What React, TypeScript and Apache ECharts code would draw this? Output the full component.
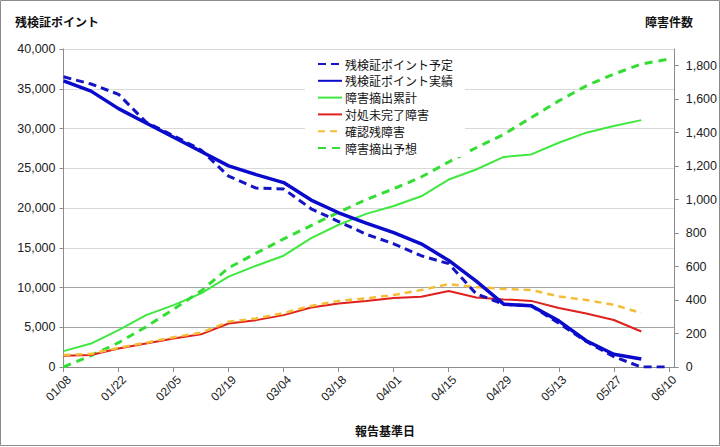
import React, { useEffect, useRef } from "react";
import * as echarts from "echarts";

// Weekly reporting dates (leap year, Mondays)
const weekDates = [
  "01/08", "01/15", "01/22", "01/29", "02/05", "02/12", "02/19", "02/26",
  "03/04", "03/11", "03/18", "03/25", "04/01", "04/08", "04/15", "04/22",
  "04/29", "05/06", "05/13", "05/20", "05/27", "06/03", "06/10",
];
const xTickLabels = [
  "01/08", "01/22", "02/05", "02/19", "03/04", "03/18",
  "04/01", "04/15", "04/29", "05/13", "05/27", "06/10",
];
const leftTicks = [0, 5000, 10000, 15000, 20000, 25000, 30000, 35000, 40000];
const rightTicks = [0, 200, 400, 600, 800, 1000, 1200, 1400, 1600, 1800];

// 残検証ポイント予定 (left axis)
const planPoints = [
  36500, 35600, 34300, 30800, 29100, 27300, 24000, 22500, 22400, 19900, 18300, 16700,
  15500, 14000, 13000, 9200, 7900, 7700, 5500, 3200, 1300, 0, 0,
];
// 残検証ポイント実績 (left axis)
const actualPoints = [
  36000, 34700, 32500, 30700, 28900, 27100, 25300, 24200, 23200, 21000, 19400, 18100,
  16900, 15500, 13400, 10800, 7900, 7700, 5800, 3300, 1600, 1000,
];
// 障害摘出累計 (right axis)
const defectsFound = [
  95, 140, 220, 310, 370, 440, 540, 605, 665, 770, 850, 915,
  962, 1020, 1120, 1180, 1255, 1270, 1340, 1400, 1440, 1475,
];
// 対処未完了障害 (right axis)
const openDefects = [
  67, 72, 110, 140, 170, 195, 260, 280, 310, 355, 380, 395,
  412, 420, 454, 415, 404, 395, 352, 320, 281, 212,
];
// 確認残障害 (right axis)
const unconfirmedDefects = [
  72, 78, 115, 145, 178, 205, 270, 290, 322, 365, 395, 410,
  430, 460, 495, 478, 466, 460, 422, 400, 372, 322,
];
// 障害摘出予想 (right axis)
const defectsForecast = [
  0, 68, 145, 240, 345, 455, 592, 680, 765, 845, 925, 1000,
  1065, 1135, 1225, 1310, 1390, 1490, 1590, 1680, 1750, 1810, 1840,
];

const seriesNames = [
  "残検証ポイント予定",
  "残検証ポイント実績",
  "障害摘出累計",
  "対処未完了障害",
  "確認残障害",
  "障害摘出予想",
];

const DAYS_PER_WEEK = 7;
const toPairs = (vals: number[]) => vals.map((v, i) => [i * DAYS_PER_WEEK, v]);

const JP = '"Noto Sans CJK JP", "Noto Sans", sans-serif';
const NUM = '"Liberation Sans", Arial, sans-serif';

export default function App() {
  const ref = useRef<HTMLDivElement>(null);

  useEffect(() => {
    document.body.style.margin = "0";
    if (!ref.current) return;
    const chart = echarts.init(ref.current, undefined, { renderer: "svg" });
    const tickDays = xTickLabels.map((_, i) => i * 14);

    const option: any = {
      animation: false,
      backgroundColor: "#ffffff",
      textStyle: { fontFamily: JP },
      grid: { left: 63.5, right: 43, top: 49, bottom: 80, containLabel: false },
      legend: {
        orient: "vertical",
        left: 305,
        top: 55,
        itemWidth: 24,
        itemHeight: 10,
        itemGap: 4.8,
        padding: [3, 12, 3, 12],
        backgroundColor: "#ffffff",
        data: seriesNames,
        itemStyle: { opacity: 0 },
        textStyle: { fontFamily: JP, fontSize: 12, color: "#111", padding: [0, 0, 0, -2] },
      },
      graphic: [
        {
          type: "rect",
          shape: { x: 0.5, y: 0.5, width: 719, height: 445 },
          style: { fill: "none", stroke: "#8c8c8c", lineWidth: 1 },
          silent: true,
        },
        {
          type: "text",
          left: 15,
          top: 15,
          style: { text: "残検証ポイント", font: `bold 12px ${JP}`, fill: "#111" },
        },
        {
          type: "text",
          left: 645,
          top: 15,
          style: { text: "障害件数", font: `bold 12px ${JP}`, fill: "#111" },
        },
        {
          type: "text",
          left: 355,
          top: 424,
          style: { text: "報告基準日", font: `bold 12px ${JP}`, fill: "#111" },
        },
      ],
      xAxis: {
        type: "value",
        min: 0,
        max: 155.5,
        interval: 14,
        axisLine: { show: true, lineStyle: { color: "#8c8c8c", width: 1 } },
        axisTick: {
          show: true,
          length: 5,
          lineStyle: { color: "#8c8c8c" },
          customValues: tickDays,
        },
        axisLabel: {
          rotate: 45,
          margin: 5,
          verticalAlign: "top",
          padding: [2, 0, 0, 0],
          fontFamily: NUM,
          fontSize: 12,
          color: "#222",
          customValues: tickDays,
          formatter: (v: number) => {
            const idx = Math.round(v / 14);
            return Math.abs(v - idx * 14) < 0.01 && xTickLabels[idx] ? xTickLabels[idx] : "";
          },
        },
        splitLine: { show: false },
      },
      yAxis: [
        {
          type: "value",
          min: 0,
          max: 40000,
          interval: 5000,
          axisLine: { show: true, lineStyle: { color: "#8c8c8c" } },
          axisTick: { show: true, length: 4, lineStyle: { color: "#8c8c8c" } },
          axisLabel: {
            margin: 8,
            fontFamily: NUM,
            fontSize: 12.5,
            color: "#222",
            customValues: leftTicks,
            formatter: (v: number) => v.toLocaleString("en-US"),
          },
          splitLine: {
            show: true,
            lineStyle: {
              color: ["#a6a6a6", "#a6a6a6", "#a6a6a6", "#d9d9d9", "#d9d9d9", "#d9d9d9", "#d9d9d9", "#d9d9d9", "#d9d9d9"],
              width: 1,
            },
          },
        },
        {
          type: "value",
          min: 0,
          max: 1900,
          interval: 200,
          position: "right",
          axisLine: { show: true, lineStyle: { color: "#8c8c8c" } },
          axisTick: { show: true, length: 4, lineStyle: { color: "#8c8c8c" }, customValues: rightTicks },
          axisLabel: {
            margin: 11,
            fontFamily: NUM,
            fontSize: 12.5,
            color: "#222",
            customValues: rightTicks,
            formatter: (v: number) => v.toLocaleString("en-US"),
          },
          splitLine: { show: false },
        },
      ],
      series: [
        {
          name: seriesNames[0],
          type: "line",
          yAxisIndex: 0,
          data: toPairs(planPoints),
          symbol: "none",
          z: 6,
          lineStyle: { color: "#1414c4", width: 3, type: [8, 5] },
          itemStyle: { color: "#1414c4" },
        },
        {
          name: seriesNames[1],
          type: "line",
          yAxisIndex: 0,
          data: toPairs(actualPoints),
          symbol: "none",
          z: 7,
          lineStyle: { color: "#0a0acc", width: 3.5 },
          itemStyle: { color: "#0a0acc" },
        },
        {
          name: seriesNames[2],
          type: "line",
          yAxisIndex: 1,
          data: toPairs(defectsFound),
          symbol: "none",
          z: 3,
          lineStyle: { color: "#3fe83f", width: 2 },
          itemStyle: { color: "#3fe83f" },
        },
        {
          name: seriesNames[3],
          type: "line",
          yAxisIndex: 1,
          data: toPairs(openDefects),
          symbol: "none",
          z: 4,
          lineStyle: { color: "#e0201c", width: 2 },
          itemStyle: { color: "#e0201c" },
        },
        {
          name: seriesNames[4],
          type: "line",
          yAxisIndex: 1,
          data: toPairs(unconfirmedDefects),
          symbol: "none",
          z: 5,
          lineStyle: { color: "#f5bd35", width: 2.5, type: [7, 5] },
          itemStyle: { color: "#f5bd35" },
        },
        {
          name: seriesNames[5],
          type: "line",
          yAxisIndex: 1,
          data: toPairs(defectsForecast),
          symbol: "none",
          z: 3,
          lineStyle: { color: "#33dd33", width: 3, type: [8, 6] },
          itemStyle: { color: "#33dd33" },
        },
      ],
    };
    chart.setOption(option);
    return () => chart.dispose();
  }, []);

  return <div ref={ref} style={{ width: 720, height: 447 }} />;
}
